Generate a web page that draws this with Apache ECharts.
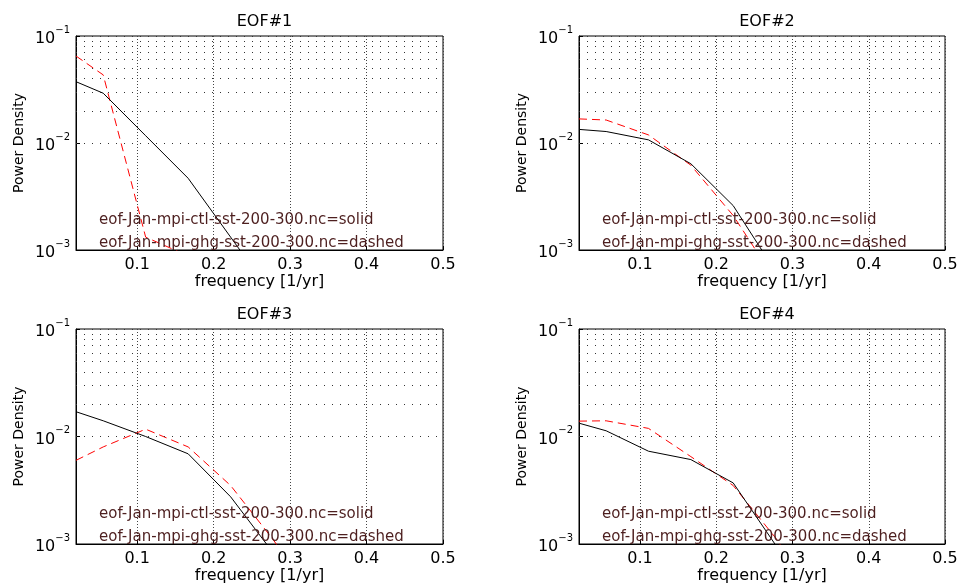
<!DOCTYPE html>
<html>
<head>
<meta charset="utf-8">
<title>EOF power spectra</title>
<script src="https://cdn.jsdelivr.net/npm/echarts@6/dist/echarts.min.js"></script>
<style>
    html, body { margin: 0; padding: 0; background: #fff; }
    #main { width: 961px; height: 587px; }
</style>
</head>
<body>
<div id="main"></div>
<script type="text/javascript">
    // frequencies [1/yr]
    var freq = [0.02, 0.0556, 0.1111, 0.1667, 0.2222, 0.2778, 0.3333];

    // power density, ctl run (solid) and ghg run (dashed)
    var ctl1 = [0.0374, 0.0292, 0.0117, 0.00468, 0.00132, 0.00037, 0.0001];
    var ghg1 = [0.065, 0.0433, 0.00132, 0.00088, 0.0005, 0.0003, 0.0002];
    var ctl2 = [0.0134, 0.0128, 0.0107, 0.0064, 0.0026, 0.00063, 0.0002];
    var ghg2 = [0.0168, 0.0164, 0.0119, 0.0062, 0.0021, 0.00052, 0.0002];
    var ctl3 = [0.0170, 0.0140, 0.0100, 0.0069, 0.00275, 0.00083, 0.0002];
    var ghg3 = [0.0060, 0.0080, 0.0117, 0.0080, 0.0035, 0.0011, 0.0003];
    var ctl4 = [0.0133, 0.0113, 0.0073, 0.0061, 0.0037, 0.00098, 0.0002];
    var ghg4 = [0.0139, 0.0140, 0.0119, 0.0065, 0.0035, 0.00114, 0.0003];

    var titles = ['EOF#1', 'EOF#2', 'EOF#3', 'EOF#4'];
    var ctlSets = [ctl1, ctl2, ctl3, ctl4];
    var ghgSets = [ghg1, ghg2, ghg3, ghg4];

    // minor grid values of the log axis
    var minorY = [0.002, 0.003, 0.004, 0.005, 0.006, 0.007, 0.008, 0.009,
                  0.02, 0.03, 0.04, 0.05, 0.06, 0.07, 0.08, 0.09];

    var txtCtl = 'eof-Jan-mpi-ctl-sst-200-300.nc=solid';
    var txtGhg = 'eof-Jan-mpi-ghg-sst-200-300.nc=dashed';

    var FONT = '"DejaVu Sans", sans-serif';
    var boxes = [[76, 36, 367, 214], [579, 36, 366, 214], [76, 329, 367, 215], [579, 329, 366, 215]];

    function pairs(xs, ys) {
        var arr = [];
        for (var i = 0; i < xs.length; i++) arr.push([xs[i], ys[i]]);
        return arr;
    }

    var supMinus = '\u2212';
    var grids = [], xAxes = [], yAxes = [], series = [], titleList = [], graphics = [];

    for (var k = 0; k < 4; k++) {
        var b = boxes[k];
        grids.push({
            left: b[0], top: b[1], width: b[2], height: b[3],
            show: true, borderColor: '#000', borderWidth: 1, backgroundColor: '#fff'
        });
        titleList.push({
            text: titles[k],
            left: b[0] + b[2] / 2, top: b[1] - 27, textAlign: 'center',
            textStyle: { fontFamily: FONT, fontSize: 16, fontWeight: 'normal', color: '#000' }
        });
        xAxes.push({
            gridIndex: k, type: 'value', min: 0.02, max: 0.5, splitNumber: 5,
            name: 'frequency [1/yr]', nameLocation: 'middle', nameGap: 21,
            nameTextStyle: { fontFamily: FONT, fontSize: 16, color: '#000' },
            axisLine: { lineStyle: { color: '#000', width: 1 } },
            axisTick: { inside: true, length: 4, lineStyle: { color: '#000' } },
            axisLabel: {
                showMinLabel: false, margin: 7, fontFamily: FONT, fontSize: 16, color: '#000',
                formatter: function (v) { return String(Math.round(v * 10) / 10); }
            },
            splitLine: { show: true, lineStyle: { color: '#444', width: 1, type: [1, 2] } }
        });
        yAxes.push({
            gridIndex: k, type: 'log', logBase: 10, min: 0.001, max: 0.1,
            name: 'Power Density', nameLocation: 'middle', nameGap: 50,
            nameTextStyle: { fontFamily: FONT, fontSize: 14, color: '#000' },
            axisLine: { lineStyle: { color: '#000', width: 1 } },
            axisTick: { inside: true, length: 4, lineStyle: { color: '#000' } },
            axisLabel: {
                margin: 6, color: '#000',
                formatter: function (v) {
                    var e = Math.round(Math.log(v) / Math.LN10);
                    return '{b|10}{s|' + (e < 0 ? supMinus : '') + Math.abs(e) + '}';
                },
                rich: {
                    b: { fontFamily: FONT, fontSize: 16, color: '#000', verticalAlign: 'bottom', padding: [6, 0, 0, 0] },
                    s: { fontFamily: FONT, fontSize: 10, color: '#000', verticalAlign: 'top' }
                }
            },
            splitLine: { show: true, lineStyle: { color: '#333', width: 1, type: [1, 7] } }
        });
        series.push({
            type: 'line', xAxisIndex: k, yAxisIndex: k, name: 'ghg',
            data: pairs(freq, ghgSets[k]), showSymbol: false, clip: true, z: 3,
            lineStyle: { color: '#ff0000', width: 1, type: [8, 5] }
        });
        series.push({
            type: 'line', xAxisIndex: k, yAxisIndex: k, name: 'ctl',
            data: pairs(freq, ctlSets[k]), showSymbol: false, clip: true, z: 4,
            lineStyle: { color: '#000', width: 1 },
            markLine: {
                silent: true, symbol: ['none', 'none'], label: { show: false },
                lineStyle: { color: '#333', width: 1, type: [1, 7] },
                emphasis: { disabled: true },
                animation: false,
                data: minorY.map(function (v) { return { yAxis: v }; })
            }
        });
        graphics.push({
            type: 'text', left: b[0] + 23, top: b[1] + b[3] - 37,
            style: { text: txtCtl, fill: '#4d1f1f', font: '15px ' + FONT }, z: 10
        });
        graphics.push({
            type: 'text', left: b[0] + 23, top: b[1] + b[3] - 14,
            style: { text: txtGhg, fill: '#4d1f1f', font: '15px ' + FONT }, z: 10
        });
    }

    var myChart = echarts.init(document.getElementById('main'));
    myChart.setOption({
        animation: false,
        backgroundColor: '#fff',
        title: titleList,
        grid: grids,
        xAxis: xAxes,
        yAxis: yAxes,
        series: series,
        graphic: graphics
    });
</script>
</body>
</html>
